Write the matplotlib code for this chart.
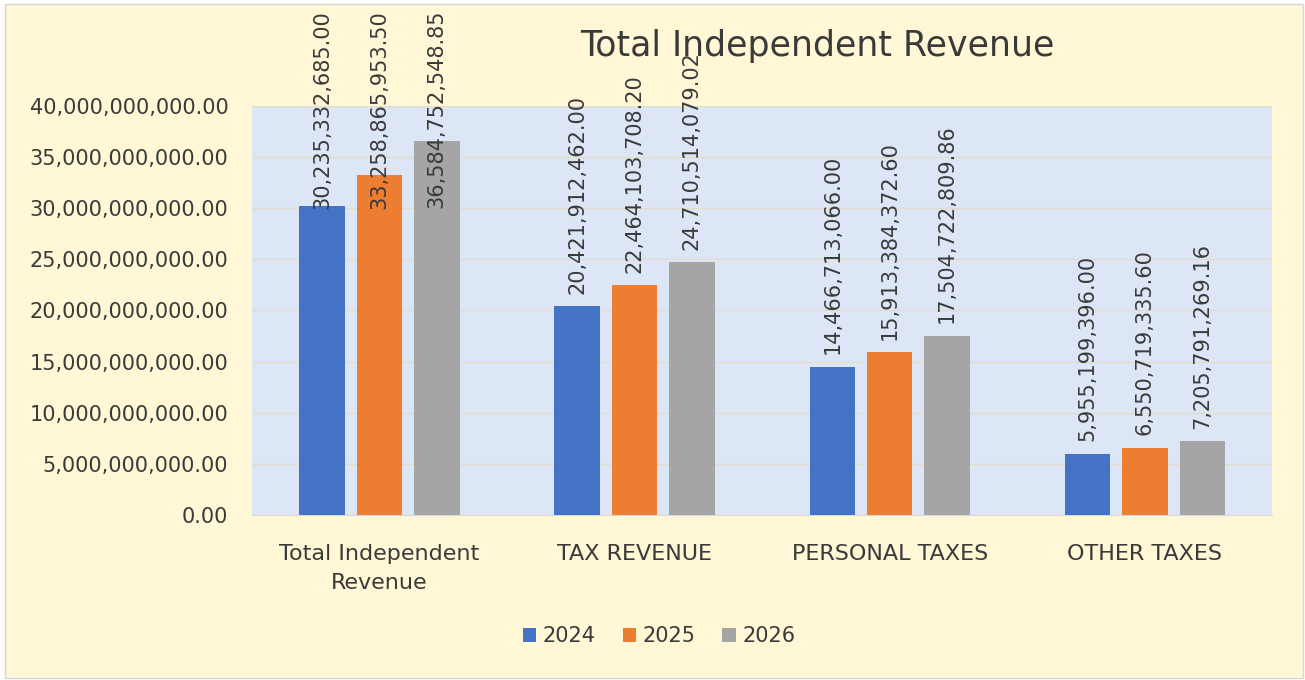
import matplotlib.pyplot as plt
import numpy as np
from matplotlib.patches import Rectangle

# Data
categories = ["Total Independent\nRevenue", "TAX REVENUE", "PERSONAL TAXES", "OTHER TAXES"]
years = ["2024", "2025", "2026"]
values_2024 = [30235332685.00, 20421912462.00, 14466713066.00, 5955199396.00]
values_2025 = [33258865953.50, 22464103708.20, 15913384372.60, 6550719335.60]
values_2026 = [36584752548.85, 24710514079.02, 17504722809.86, 7205791269.16]
series = [values_2024, values_2025, values_2026]
colors = ["#4472C4", "#ED7D31", "#A5A5A5"]
text_color = "#3A3A3A"

fig = plt.figure(figsize=(13.05, 6.8), dpi=100)
fig.patch.set_facecolor("white")
# yellow chart area with thin border
fig.patches.append(Rectangle((5 / 1305, 2 / 680), 1298 / 1305, 674 / 680,
                             transform=fig.transFigure, facecolor="#FFF7D6",
                             edgecolor="#D6D6D6", linewidth=1, zorder=-1))

ax = fig.add_axes([0.193, 0.243, 0.782, 0.601])
ax.set_facecolor("#DDE6F7")

x = np.arange(len(categories))
width = 0.178
offsets = [-0.225, 0, 0.225]
label_pad = 9  # points above bar top

labels = []
for vals, off, col, yr in zip(series, offsets, colors, years):
    bars = ax.bar(x + off, vals, width, color=col, label=yr, zorder=3)
    for b, v in zip(bars, vals):
        t = ax.annotate(f"{v:,.2f}", (b.get_x() + b.get_width() / 2, v),
                        xytext=(0, label_pad), textcoords="offset points",
                        rotation=90, ha="center", va="bottom", fontsize=15,
                        color=text_color, annotation_clip=False, zorder=4)
        labels.append(t)

ax.set_xlim(-0.5, 3.5)
ax.set_ylim(0, 40e9)
ax.set_yticks(np.arange(0, 40e9 + 1, 5e9))
ax.yaxis.set_major_formatter(plt.FuncFormatter(lambda v, p: f"{v:,.2f}"))
ax.set_xticks(x)
ax.set_xticklabels(categories, linespacing=1.55)
ax.tick_params(axis="y", length=0, pad=17, labelsize=15, labelcolor=text_color)
ax.tick_params(axis="x", length=0, pad=21, labelsize=16, labelcolor=text_color)
ax.grid(axis="y", color="#E3DCCB", linewidth=1, zorder=0)
for s in ["top", "right", "left"]:
    ax.spines[s].set_visible(False)
ax.spines["bottom"].set_color("#D9D9D9")

fig.text(0.626, 0.933, "Total Independent Revenue", ha="center", va="center",
         fontsize=25, color=text_color)

fig.legend(loc="center", bbox_to_anchor=(0.505, 0.064), ncol=3, frameon=False,
           fontsize=15, handlelength=0.65, handleheight=0.65, columnspacing=1.3,
           handletextpad=0.3, labelcolor=text_color)

# push labels down so they stay inside the chart area (like Excel does)
fig.canvas.draw()
renderer = fig.canvas.get_renderer()
limit = fig.bbox.height - 10
for t in labels:
    bb = t.get_window_extent(renderer)
    if bb.y1 > limit:
        dy = (bb.y1 - limit) * 72 / fig.dpi
        t.xyann = (0, label_pad - dy)

fig.savefig("out.png", dpi=100, facecolor=fig.get_facecolor())
